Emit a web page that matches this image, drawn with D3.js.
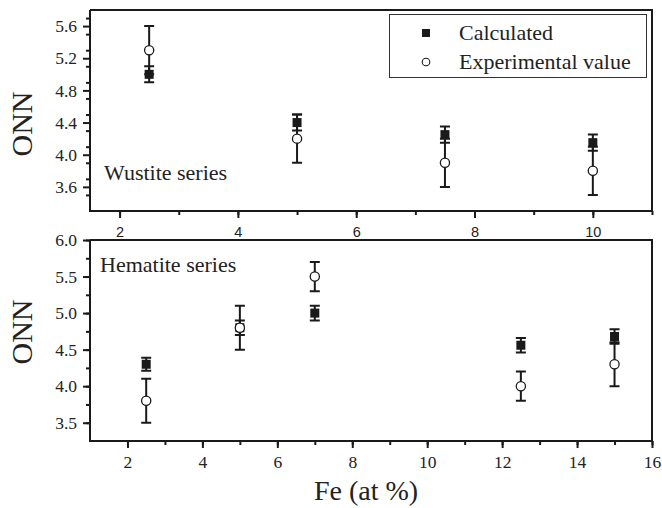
<!DOCTYPE html>
<html>
<head>
<meta charset="utf-8">
<script src="https://cdn.jsdelivr.net/npm/d3@7"></script>
<style>
  html, body { margin: 0; padding: 0; background: #fff; }
  svg { display: block; }
</style>
</head>
<body>
<svg id="chart" width="662" height="508"></svg>
<script>
// Wustite series: Fe content (at %) and ONN values with error half-widths
const wustiteFe = [2.5, 5, 7.5, 10];
const wustiteCalc = [5.0, 4.4, 4.25, 4.15];
const wustiteCalcErr = [0.1, 0.1, 0.1, 0.1];
const wustiteExp = [5.3, 4.2, 3.9, 3.8];
const wustiteExpErr = [0.3, 0.3, 0.3, 0.3];

// Hematite series
const hematiteFe = [2.5, 5, 7, 12.5, 15];
const hematiteCalc = [4.3, 4.8, 5.0, 4.56, 4.68];
const hematiteCalcErr = [0.09, 0.1, 0.1, 0.1, 0.1];
const hematiteExp = [3.8, 4.8, 5.5, 4.0, 4.3];
const hematiteExpErr = [0.3, 0.3, 0.2, 0.2, 0.3];

// Tick values
const topXTicks = [2, 4, 6, 8, 10];
const topYTicks = [3.6, 4.0, 4.4, 4.8, 5.2, 5.6];
const botXTicks = [2, 4, 6, 8, 10, 12, 14, 16];
const botYTicks = [3.5, 4.0, 4.5, 5.0, 5.5, 6.0];

const legendLabels = ["Calculated", "Experimental value"];
const panelLabels = ["Wustite series", "Hematite series"];
const yTitle = "ONN";
const xTitle = "Fe (at %)";

const SERIF = '"Liberation Serif", "Times New Roman", serif';
const SANS = '"Liberation Sans", Arial, sans-serif';
const ink = "#1a1a1a";
const textInk = "#222";

const svg = d3.select("#chart");

function drawPanel(cfg) {
  const g = svg.append("g");
  const x = d3.scaleLinear().domain(cfg.xDomain).range([cfg.left, cfg.right]);
  const y = d3.scaleLinear().domain(cfg.yDomain).range([cfg.bottom, cfg.top]);

  // frame (top and right edges)
  g.append("path")
    .attr("d", `M${cfg.left},${cfg.top}H${cfg.right}V${cfg.bottom}`)
    .attr("fill", "none").attr("stroke", ink).attr("stroke-width", 2);

  // minor ticks
  const yMinor = d3.range(cfg.yDomain[0], cfg.yDomain[1] + 1e-9, cfg.yMinorStep)
    .filter(v => v > cfg.yDomain[0] + 1e-9);
  const xMinor = d3.range(Math.ceil(cfg.xDomain[0] / cfg.xMinorStep) * cfg.xMinorStep, cfg.xDomain[1] + 1e-9, cfg.xMinorStep)
    .filter(v => v > cfg.xDomain[0] + 1e-9);

  g.append("g").attr("transform", `translate(${cfg.left},0)`)
    .call(d3.axisLeft(y).tickValues(yMinor).tickSize(4).tickFormat(""));
  g.append("g").attr("transform", `translate(0,${cfg.bottom})`)
    .call(d3.axisBottom(x).tickValues(xMinor).tickSize(4).tickFormat(""));

  // major ticks + labels
  const ya = g.append("g").attr("transform", `translate(${cfg.left},0)`)
    .call(d3.axisLeft(y).tickValues(cfg.yTicks).tickSize(7).tickPadding(6)
      .tickFormat(d3.format(".1f")));
  const xa = g.append("g").attr("transform", `translate(0,${cfg.bottom})`)
    .call(d3.axisBottom(x).tickValues(cfg.xTicks).tickSize(7).tickPadding(cfg.xPad)
      .tickFormat(d3.format("d")));

  g.selectAll("path.domain").remove();
  g.selectAll("g.tick line").attr("stroke", ink).attr("stroke-width", 2);

  ya.selectAll("text")
    .style("font-family", SERIF).style("font-size", "17.5px").attr("fill", textInk);
  xa.selectAll("text")
    .style("font-family", cfg.xFont).style("font-size", cfg.xFontSize + "px").attr("fill", textInk);

  // left and bottom axis lines
  g.append("path")
    .attr("d", `M${cfg.left},${cfg.top}V${cfg.bottom}H${cfg.right}`)
    .attr("fill", "none").attr("stroke", ink).attr("stroke-width", 2);

  // vertical error bars with caps
  const capW = 5;
  function errorBars(xs, vs, es) {
    const d = xs.map((xv, i) => ({ x: xv, v: vs[i], e: es[i] }));
    g.append("g").attr("stroke", ink).attr("stroke-width", 2).attr("fill", "none")
      .selectAll("path").data(d).join("path")
      .attr("d", p => {
        const cx = x(p.x), y1 = y(p.v + p.e), y2 = y(p.v - p.e);
        return `M${cx},${y1}V${y2}M${cx - capW},${y1}H${cx + capW}M${cx - capW},${y2}H${cx + capW}`;
      });
  }

  // calculated: filled squares
  errorBars(cfg.fe, cfg.calc, cfg.calcErr);
  g.append("g").selectAll("rect")
    .data(cfg.fe.map((xv, i) => ({ x: xv, v: cfg.calc[i] })))
    .join("rect")
    .attr("x", p => x(p.x) - 4.5).attr("y", p => y(p.v) - 4.5)
    .attr("width", 9).attr("height", 9)
    .attr("fill", ink);

  // experimental: open circles
  errorBars(cfg.fe, cfg.exp, cfg.expErr);
  g.append("g").selectAll("circle")
    .data(cfg.fe.map((xv, i) => ({ x: xv, v: cfg.exp[i] })))
    .join("circle")
    .attr("cx", p => x(p.x)).attr("cy", p => y(p.v)).attr("r", 4.6)
    .attr("fill", "#fff").attr("stroke", ink).attr("stroke-width", 1.3);

  // panel label
  g.append("text")
    .attr("x", cfg.labelX).attr("y", cfg.labelY)
    .style("font-family", SERIF).style("font-size", "22px").attr("fill", textInk)
    .text(cfg.label);

  // y title
  g.append("text")
    .attr("transform", `translate(32,${cfg.titleY}) rotate(-90)`)
    .attr("text-anchor", "middle")
    .style("font-family", SERIF).style("font-size", "30px").attr("fill", textInk)
    .text(yTitle);

  return { x, y };
}

drawPanel({
  left: 90, right: 652, top: 10, bottom: 211,
  xDomain: [1.5, 11], yDomain: [3.3, 5.8],
  xMinorStep: 1, yMinorStep: 0.2,
  xTicks: topXTicks, yTicks: topYTicks,
  xFont: SANS, xFontSize: 14.5, xPad: 9,
  fe: wustiteFe, calc: wustiteCalc, calcErr: wustiteCalcErr,
  exp: wustiteExp, expErr: wustiteExpErr,
  label: panelLabels[0], labelX: 104, labelY: 180, titleY: 124
});

drawPanel({
  left: 90, right: 652, top: 240, bottom: 441,
  xDomain: [1, 16], yDomain: [3.25, 6.0],
  xMinorStep: 1, yMinorStep: 0.25,
  xTicks: botXTicks, yTicks: botYTicks,
  xFont: SERIF, xFontSize: 17.5, xPad: 8,
  fe: hematiteFe, calc: hematiteCalc, calcErr: hematiteCalcErr,
  exp: hematiteExp, expErr: hematiteExpErr,
  label: panelLabels[1], labelX: 100, labelY: 272, titleY: 332
});

// x title
svg.append("text")
  .attr("x", 366).attr("y", 500)
  .attr("text-anchor", "middle")
  .style("font-family", SERIF).style("font-size", "28px").attr("fill", textInk)
  .text(xTitle);

// legend
const lg = svg.append("g");
lg.append("rect").attr("x", 389.5).attr("y", 14.5).attr("width", 257).attr("height", 63)
  .attr("fill", "#fff").attr("stroke", "#333").attr("stroke-width", 1);
lg.append("rect").attr("x", 422).attr("y", 29).attr("width", 8).attr("height", 8).attr("fill", ink);
lg.append("circle").attr("cx", 426).attr("cy", 62).attr("r", 3.8)
  .attr("fill", "#fff").attr("stroke", ink).attr("stroke-width", 1.1);
lg.selectAll("text.leg").data(legendLabels).join("text")
  .attr("class", "leg")
  .attr("x", 459).attr("y", (d, i) => 40 + i * 29)
  .style("font-family", SERIF).style("font-size", "22px").attr("fill", textInk)
  .text(d => d);
</script>
</body>
</html>
